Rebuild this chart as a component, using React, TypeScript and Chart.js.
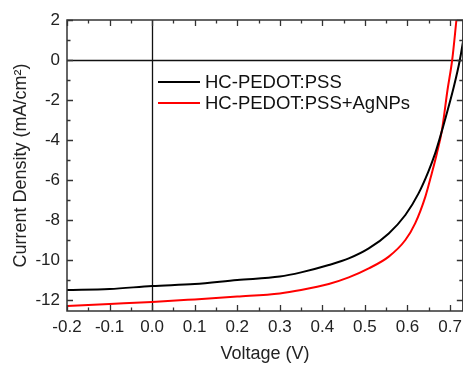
import React, { useEffect, useRef } from "react";
import { Chart, registerables } from "chart.js";

Chart.register(...registerables);

const seriesNames = ["HC-PEDOT:PSS", "HC-PEDOT:PSS+AgNPs"];
const seriesColors = ["#000000", "#ff0000"];

const blackV = [-0.2, -0.1, 0.0, 0.1, 0.2, 0.3, 0.35, 0.415, 0.462, 0.509, 0.556, 0.595, 0.626, 0.649, 0.665, 0.677, 0.69, 0.709, 0.723, 0.735];
const blackJ = [-11.5, -11.45, -11.3, -11.2, -11.0, -10.83, -10.62, -10.25, -9.92, -9.42, -8.67, -7.75, -6.67, -5.58, -4.67, -3.83, -2.85, -1.33, 0.0, 1.5];

const redV = [-0.2, -0.1, 0.0, 0.1, 0.2, 0.3, 0.35, 0.415, 0.462, 0.509, 0.556, 0.595, 0.618, 0.642, 0.657, 0.669, 0.681, 0.694, 0.705, 0.715, 0.72];
const redJ = [-12.3, -12.2, -12.1, -11.97, -11.83, -11.67, -11.5, -11.2, -10.87, -10.42, -9.83, -9.0, -8.17, -6.83, -5.67, -4.67, -3.5, -1.5, 0.0, 2.0, 3.0];

const xMajorTicks = [-0.2, -0.1, 0.0, 0.1, 0.2, 0.3, 0.4, 0.5, 0.6, 0.7];
const xMinorTicks = [-0.15, -0.05, 0.05, 0.15, 0.25, 0.35, 0.45, 0.55, 0.65];
const yMajorTicks = [-12, -10, -8, -6, -4, -2, 0, 2];
const yMinorTicks = [-11, -9, -7, -5, -3, -1, 1];

const xRange = [-0.2, 0.73];
const yRange = [-12.55, 2];

const xTitle = "Voltage (V)";
const yTitle = "Current Density (mA/cm\u00B2)";

const FONT = "'Liberation Sans', Arial, Helvetica, sans-serif";

const framePlugin = {
  id: "framePlugin",
  beforeDatasetsDraw(chart: any) {
    const { ctx, chartArea, scales } = chart;
    const x = scales.x;
    const y = scales.y;
    ctx.save();
    ctx.strokeStyle = "#111";
    ctx.lineWidth = 1.3;
    const x0 = Math.round(x.getPixelForValue(0)) + 0.5;
    const y0 = Math.round(y.getPixelForValue(0)) + 0.5;
    ctx.beginPath();
    ctx.moveTo(x0, chartArea.top);
    ctx.lineTo(x0, chartArea.bottom);
    ctx.moveTo(chartArea.left, y0);
    ctx.lineTo(chartArea.right, y0);
    ctx.stroke();
    ctx.restore();
  },
  afterDatasetsDraw(chart: any) {
    const { ctx, chartArea, scales } = chart;
    const x = scales.x;
    const y = scales.y;
    const { left, right, top, bottom } = chartArea;
    ctx.save();
    ctx.strokeStyle = "#333";
    ctx.lineWidth = 1.5;
    ctx.strokeRect(left, top, right - left, bottom - top);
    ctx.lineWidth = 1.3;
    ctx.beginPath();
    const drawX = (vals: number[], len: number) => {
      vals.forEach((v) => {
        const px = Math.round(x.getPixelForValue(v)) + 0.5;
        ctx.moveTo(px, bottom);
        ctx.lineTo(px, bottom - len);
        ctx.moveTo(px, top);
        ctx.lineTo(px, top + len);
      });
    };
    const drawY = (vals: number[], len: number) => {
      vals.forEach((v) => {
        const py = Math.round(y.getPixelForValue(v)) + 0.5;
        ctx.moveTo(left, py);
        ctx.lineTo(left + len, py);
        ctx.moveTo(right, py);
        ctx.lineTo(right - len, py);
      });
    };
    drawX(xMajorTicks, 6);
    drawX(xMinorTicks, 3.5);
    drawY(yMajorTicks, 6);
    drawY(yMinorTicks, 3.5);
    ctx.stroke();

    // legend
    const lx0 = 158;
    const lx1 = 200;
    const ly = [82, 103];
    ctx.font = `18.5px ${FONT}`;
    ctx.textBaseline = "middle";
    ctx.textAlign = "left";
    chart.data.datasets.forEach((ds: any, i: number) => {
      ctx.strokeStyle = ds.borderColor;
      ctx.lineWidth = 2;
      ctx.beginPath();
      ctx.moveTo(lx0, ly[i]);
      ctx.lineTo(lx1, ly[i]);
      ctx.stroke();
      ctx.fillStyle = "#111";
      ctx.fillText(ds.label, 205, ly[i] + 1);
    });
    ctx.restore();
  },
};

export default function App() {
  const canvasRef = useRef<HTMLCanvasElement | null>(null);

  useEffect(() => {
    if (!canvasRef.current) return;
    const chart = new Chart(canvasRef.current, {
      type: "line",
      data: {
        datasets: [
          {
            label: seriesNames[0],
            data: blackV.map((v, i) => ({ x: v, y: blackJ[i] })),
            borderColor: seriesColors[0],
            borderWidth: 2,
            pointRadius: 0,
            cubicInterpolationMode: "monotone",
            fill: false,
          },
          {
            label: seriesNames[1],
            data: redV.map((v, i) => ({ x: v, y: redJ[i] })),
            borderColor: seriesColors[1],
            borderWidth: 2,
            pointRadius: 0,
            cubicInterpolationMode: "monotone",
            fill: false,
          },
        ],
      },
      options: {
        animation: false,
        responsive: true,
        maintainAspectRatio: false,
        layout: { padding: { top: 20, right: 4, left: 0, bottom: 0 } },
        plugins: {
          legend: { display: false },
          tooltip: { enabled: false },
        },
        scales: {
          x: {
            type: "linear",
            min: xRange[0],
            max: xRange[1],
            grid: { display: false, drawTicks: false },
            border: { display: false },
            ticks: {
              stepSize: 0.1,
              includeBounds: false,
              autoSkip: false,
              maxRotation: 0,
              padding: 6,
              color: "#222",
              font: { family: FONT, size: 17 },
              callback: (v: any) => {
                const n = Number(v);
                return Math.abs(n) < 1e-9 ? "0.0" : n.toFixed(1);
              },
            },
            title: {
              display: true,
              text: xTitle,
              color: "#222",
              font: { family: FONT, size: 18 },
              padding: { top: 0, bottom: 2 },
            },
            afterFit: (s: any) => {
              s.height = 56;
            },
          },
          y: {
            type: "linear",
            min: yRange[0],
            max: yRange[1],
            grid: { display: false, drawTicks: false },
            border: { display: false },
            ticks: {
              stepSize: 2,
              includeBounds: false,
              autoSkip: false,
              padding: 7,
              color: "#222",
              font: { family: FONT, size: 17 },
              callback: (v: any) => String(Math.round(Number(v))),
            },
            title: {
              display: true,
              text: yTitle,
              color: "#222",
              font: { family: FONT, size: 18 },
              padding: { top: 10, bottom: 0 },
            },
            afterFit: (s: any) => {
              s.width = 67;
            },
          },
        },
      },
      plugins: [framePlugin],
    } as any);
    return () => chart.destroy();
  }, []);

  return (
    <div
      style={{
        position: "absolute",
        left: 0,
        top: 0,
        width: 463,
        height: 367,
        overflow: "hidden",
        background: "#fff",
      }}
    >
      <div style={{ position: "relative", width: 468, height: 367 }}>
        <canvas ref={canvasRef} />
      </div>
    </div>
  );
}
